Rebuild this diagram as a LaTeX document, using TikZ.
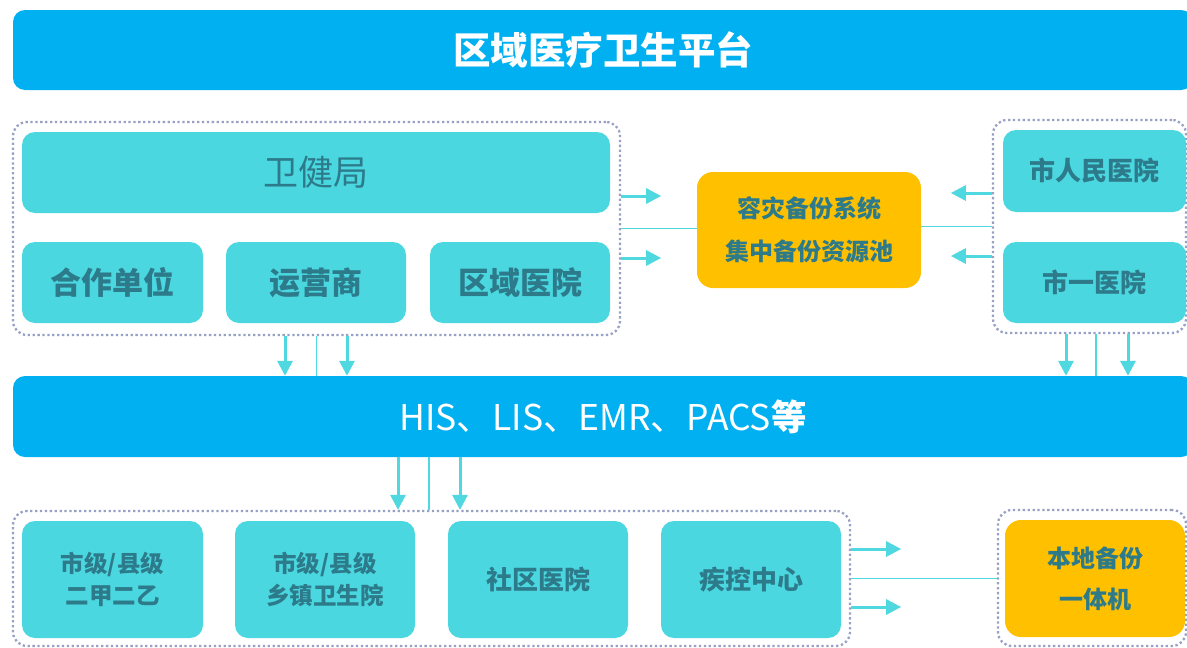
\documentclass[tikz,border=0pt]{standalone}
\usepackage{fontspec}
\setmainfont{Noto Sans CJK SC}
\usepackage{xcolor}
\usepackage{tikz}
\usetikzlibrary{arrows.meta}

\definecolor{barblue}{HTML}{00B0F0}
\definecolor{boxcyan}{HTML}{4AD7E0}
\definecolor{boxyellow}{HTML}{FFC000}
\definecolor{txtteal}{HTML}{2C7A8A}
\definecolor{dotgray}{HTML}{98A0C6}
\definecolor{arrcyan}{HTML}{4FD8E0}

\tikzset{
    bar/.style={fill=barblue, rounded corners=12pt, minimum width=1180pt, minimum height=80pt, text=white},
    unit/.style={fill=boxcyan, rounded corners=13pt, text=txtteal, align=center, inner sep=0pt},
    backup/.style={fill=boxyellow, rounded corners=16pt, text=txtteal, align=center, inner sep=0pt},
    group/.style={draw=dotgray, line width=2.3pt, dash pattern=on 2.3pt off 2.6pt, rounded corners=14pt, inner sep=0pt},
    arr/.style={draw=arrcyan, line width=3pt, -{Triangle[length=15pt,width=15pt]}},
    ln/.style={draw=arrcyan, line width=1.8pt}
}

\begin{document}
\begin{tikzpicture}[x=1pt, y=-1pt]
    \clip (0,0) rectangle (1187,648);
    \fill[white] (0,0) rectangle (1187,648);

    \node[bar, font=\fontsize{37.5}{40}\selectfont\bfseries] (platform) at (603,50) {区域医疗卫生平台};

    % upper left: bureau and partners
    \node[group, minimum width=607pt, minimum height=213pt] (gUp) at (316.5,228.5) {};
    \node[unit, minimum width=588pt, minimum height=81pt, font=\fontsize{35}{40}\selectfont] (bureau) at (316,172.5) {卫健局};
    \node[unit, minimum width=181pt, minimum height=81pt, font=\fontsize{31}{36}\selectfont\bfseries] (partner) at (112.5,282.5) {合作单位};
    \node[unit, minimum width=180pt, minimum height=81pt, font=\fontsize{31}{36}\selectfont\bfseries] (carrier) at (316,282.5) {运营商};
    \node[unit, minimum width=180pt, minimum height=81pt, font=\fontsize{31}{36}\selectfont\bfseries] (areahosp) at (520,282.5) {区域医院};

    % disaster recovery
    \node[backup, minimum width=224pt, minimum height=116pt, font=\fontsize{24}{43}\selectfont\bfseries] (drsys) at (809,230) {容灾备份系统\\集中备份资源池};

    % upper right: city hospitals
    \node[group, minimum width=193pt, minimum height=213pt] (gCity) at (1089.5,226.5) {};
    \node[unit, minimum width=183pt, minimum height=82pt, font=\fontsize{26}{30}\selectfont\bfseries] (peoplehosp) at (1094.5,171) {市人民医院};
    \node[unit, minimum width=183pt, minimum height=81pt, font=\fontsize{26}{30}\selectfont\bfseries] (firsthosp) at (1094.5,282.5) {市一医院};

    \node[bar, minimum height=81pt, font=\fontsize{35.5}{40}\selectfont] (systems) at (603,416.5) {HIS、LIS、EMR、PACS{\bfseries 等}};

    % lower: grass-roots units
    \node[group, minimum width=837pt, minimum height=135pt] (gLow) at (431.5,578.5) {};
    \node[unit, minimum width=181pt, minimum height=117pt, font=\fontsize{23.5}{32}\selectfont\bfseries] (cityhosp) at (112.5,579.5) {市级/县级\\二甲二乙};
    \node[unit, minimum width=180pt, minimum height=117pt, font=\fontsize{23.5}{32}\selectfont\bfseries] (townhosp) at (325,579.5) {市级/县级\\乡镇卫生院};
    \node[unit, minimum width=180pt, minimum height=117pt, font=\fontsize{26}{30}\selectfont\bfseries] (community) at (538,579.5) {社区医院};
    \node[unit, minimum width=180pt, minimum height=117pt, font=\fontsize{26}{30}\selectfont\bfseries] (cdc) at (751,579.5) {疾控中心};

    \node[group, minimum width=188pt, minimum height=136pt] (gLocal) at (1092,578) {};
    \node[backup, minimum width=180pt, minimum height=117pt, font=\fontsize{24}{41}\selectfont\bfseries] (localbk) at (1095,578.5) {本地备份\\一体机};

    % connectors
    \draw[ln] (gUp.east) -- (gUp.east -| drsys.west);
    \draw[arr] ([yshift=32.5pt]gUp.east) -- ++(40,0);
    \draw[arr] ([yshift=-29.5pt]gUp.east) -- ++(40,0);

    \draw[ln] (gCity.west) -- (gCity.west -| drsys.east);
    \draw[arr] ([yshift=33.5pt]gCity.west) -- ++(-41,0);
    \draw[arr] ([yshift=-29.5pt]gCity.west) -- ++(-41,0);

    \draw[ln] (gUp.south) -- (gUp.south |- systems.north);
    \draw[arr] ([xshift=-31.5pt]gUp.south) -- ([xshift=-31.5pt]gUp.south |- systems.north);
    \draw[arr] ([xshift=30.5pt]gUp.south) -- ([xshift=30.5pt]gUp.south |- systems.north);

    \draw[ln] ([xshift=6.5pt]gCity.south) -- ([xshift=6.5pt]gCity.south |- systems.north);
    \draw[arr] ([xshift=-23.5pt]gCity.south) -- ([xshift=-23.5pt]gCity.south |- systems.north);
    \draw[arr] ([xshift=38.5pt]gCity.south) -- ([xshift=38.5pt]gCity.south |- systems.north);

    \draw[ln] ([xshift=-2.5pt]gLow.north |- systems.south) -- ([xshift=-2.5pt]gLow.north);
    \draw[arr] ([xshift=-33.5pt]gLow.north |- systems.south) -- ([xshift=-33.5pt]gLow.north);
    \draw[arr] ([xshift=28.5pt]gLow.north |- systems.south) -- ([xshift=28.5pt]gLow.north);

    \draw[ln] (gLow.east) -- (gLow.east -| gLocal.west);
    \draw[arr] ([yshift=29.5pt]gLow.east) -- ++(50,0);
    \draw[arr] ([yshift=-28.5pt]gLow.east) -- ++(50,0);
\end{tikzpicture}
\end{document}
